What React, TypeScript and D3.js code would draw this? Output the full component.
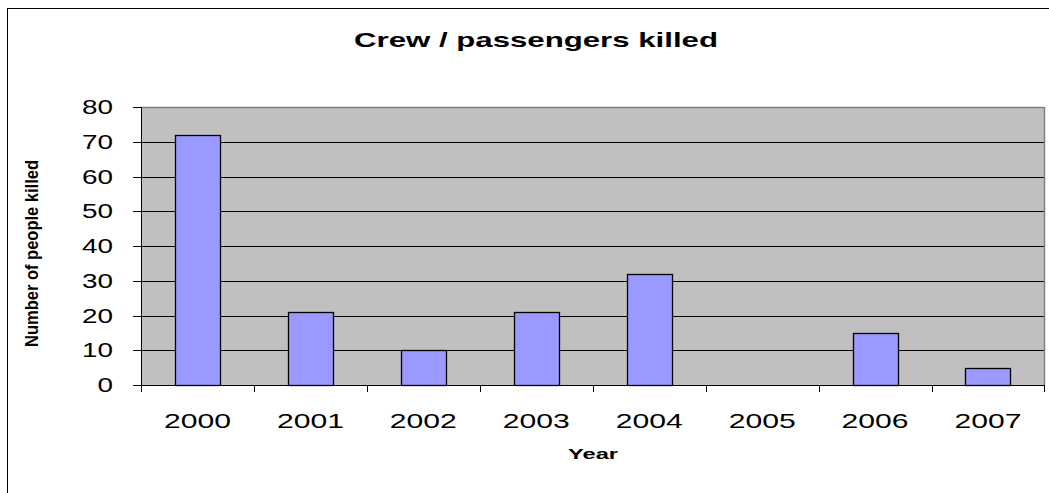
import React from "react";
import * as d3 from "d3";

const years: string[] = ["2000", "2001", "2002", "2003", "2004", "2005", "2006", "2007"];
const killed: number[] = [72, 21, 10, 21, 32, 0, 15, 5];
const yTicks: number[] = [0, 10, 20, 30, 40, 50, 60, 70, 80];

const W = 1049;
const H = 493;
const plot = { left: 141, right: 1044.5, top: 107, bottom: 385 };

export default function App() {
  const x = d3.scaleBand<string>().domain(years).range([plot.left, plot.right]).paddingInner(0.6).paddingOuter(0.3);
  const xCat = d3.scaleBand<string>().domain(years).range([plot.left, plot.right]);
  const y = d3.scaleLinear().domain([0, 80]).range([plot.bottom, plot.top]);
  const font = "Arial, 'Liberation Sans', sans-serif";

  return (
    <svg width={W} height={H} style={{ position: "absolute", left: 0, top: 0, background: "#fff" }} fontFamily={font}>
      <rect x={7.5} y={8.5} width={1100} height={600} fill="#fff" stroke="#000" strokeWidth={1} />
      <text x={536} y={46.5} textAnchor="middle" fontWeight="bold" fontSize={20.5} textLength={364} lengthAdjust="spacingAndGlyphs">
        Crew / passengers killed
      </text>
      <rect x={plot.left} y={plot.top} width={plot.right - plot.left} height={plot.bottom - plot.top} fill="#C0C0C0" />
      {yTicks.filter((t) => t > 0 && t < 80).map((t) => (
        <line key={"g" + t} x1={plot.left} x2={plot.right} y1={Math.round(y(t)) + 0.5} y2={Math.round(y(t)) + 0.5} stroke="#000" strokeWidth={1} />
      ))}
      <line x1={plot.left} x2={plot.right} y1={plot.top + 0.5} y2={plot.top + 0.5} stroke="#808080" strokeWidth={1.5} />
      <line x1={plot.right} x2={plot.right} y1={plot.top} y2={plot.bottom} stroke="#808080" strokeWidth={1.5} />
      {years.map((yr, i) => (
        <rect key={"b" + yr} x={Math.round(x(yr)!) + 0.5} y={Math.round(y(killed[i])) + 0.5} width={Math.round(x.bandwidth())} height={Math.round(y(0) - y(killed[i]))} fill="#9999FF" stroke="#000" strokeWidth={1.3} />
      ))}
      <line x1={plot.left + 0.5} x2={plot.left + 0.5} y1={plot.top} y2={plot.bottom} stroke="#000" strokeWidth={1} />
      <line x1={plot.left} x2={plot.right} y1={plot.bottom + 0.5} y2={plot.bottom + 0.5} stroke="#000" strokeWidth={1} />
      {yTicks.map((t) => (
        <g key={"y" + t}>
          <line x1={133} x2={plot.left} y1={Math.round(y(t)) + 0.5} y2={Math.round(y(t)) + 0.5} stroke="#000" strokeWidth={1} />
          <text x={113} y={y(t) + 7} textAnchor="end" fontSize={20} textLength={t === 0 ? 15.5 : 31} lengthAdjust="spacingAndGlyphs">
            {t}
          </text>
        </g>
      ))}
      {years.map((yr) => (
        <line key={"xt" + yr} x1={Math.round(xCat(yr)!) + 0.5} x2={Math.round(xCat(yr)!) + 0.5} y1={plot.bottom} y2={plot.bottom + 7} stroke="#000" strokeWidth={1} />
      ))}
      <line x1={plot.right} x2={plot.right} y1={plot.bottom} y2={plot.bottom + 7} stroke="#000" strokeWidth={1} />
      {years.map((yr) => (
        <text key={"xl" + yr} x={xCat(yr)! + xCat.bandwidth() / 2} y={428} textAnchor="middle" fontSize={21} textLength={67} lengthAdjust="spacingAndGlyphs">
          {yr}
        </text>
      ))}
      <text x={593} y={459} textAnchor="middle" fontWeight="bold" fontSize={14} textLength={50} lengthAdjust="spacingAndGlyphs">
        Year
      </text>
      <text transform={`translate(38,253.5) rotate(-90)`} textAnchor="middle" fontWeight="bold" fontSize={18} textLength={187} lengthAdjust="spacingAndGlyphs">
        Number of people killed
      </text>
    </svg>
  );
}
